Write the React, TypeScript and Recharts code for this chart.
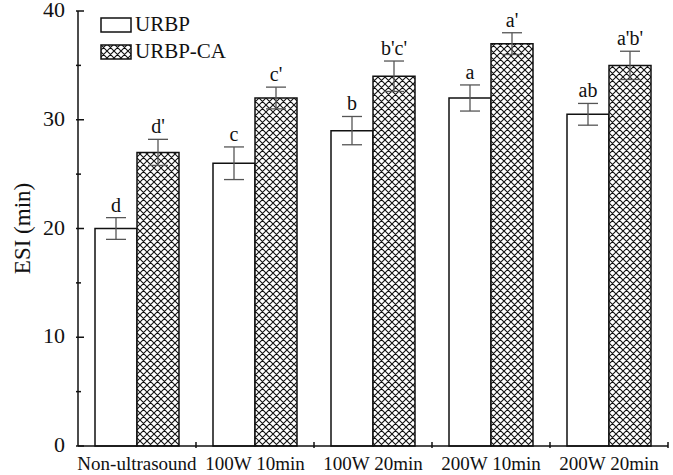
import React from "react";
import { BarChart, Bar, XAxis, YAxis, ErrorBar, LabelList, Legend } from "recharts";

const categories = ["Non-ultrasound", "100W 10min", "100W 20min", "200W 10min", "200W 20min"];
const urbp = [20, 26, 29, 32, 30.5];
const urbpErr = [1, 1.5, 1.3, 1.2, 1];
const urbpCA = [27, 32, 34, 37, 35];
const urbpCAErr = [1.2, 1, 1.4, 1, 1.3];
const urbpSig = ["d", "c", "b", "a", "ab"];
const urbpCASig = ["d'", "c'", "b'c'", "a'", "a'b'"];
const yTicks = [0, 5, 10, 15, 20, 25, 30, 35, 40];

const FONT = "'Liberation Serif', 'Times New Roman', serif";

const data = categories.map((name, i) => ({
  name,
  urbp: urbp[i],
  urbpErr: urbpErr[i],
  urbpCA: urbpCA[i],
  urbpCAErr: urbpCAErr[i],
}));

// hatch pattern used by the URBP-CA bars and legend swatch
const Hatch = ({ id }: { id: string }) => (
  <pattern id={id} width={7} height={7} patternUnits="userSpaceOnUse">
    <rect width={7} height={7} fill="#fff" />
    <path d="M0,0 L7,7 M7,0 L0,7 M-1,6 L1,8 M6,-1 L8,1 M6,8 L8,6 M-1,1 L1,-1" stroke="#111" strokeWidth={1.1} />
  </pattern>
);

// letters above each error bar
const sigLabel = (errs: number[], sigs: string[]) => (props: any) => {
  const { x, y, width, height, index, value } = props;
  const pxPerUnit = Number(height) / Number(value);
  const top = Number(y) - errs[index] * pxPerUnit;
  return (
    <text x={Number(x) + Number(width) / 2} y={top - 6} textAnchor="middle" fontFamily={FONT} fontSize={20} fill="#111">
      {sigs[index]}
    </text>
  );
};

const XTick = (props: any) => {
  const { x, y, payload, visibleTicksCount, width } = props;
  const band = (Number(width) || 590) / (visibleTicksCount || 5);
  return (
    <g>
      <line x1={x + band / 2} x2={x + band / 2} y1={y} y2={y - 6} stroke="#111" strokeWidth={1.5} />
      <text x={x} y={y + 22} textAnchor="middle" fontFamily={FONT} fontSize={19} fill="#111">
        {payload.value}
      </text>
    </g>
  );
};

const YTick = (props: any) => {
  const { x, y, payload } = props;
  const major = payload.value % 10 === 0;
  return (
    <g>
      <line x1={x} x2={x + (major ? 8 : 5)} y1={y} y2={y} stroke="#111" strokeWidth={1.5} />
      {major && (
        <text x={x - 11} y={y} dy="0.28em" textAnchor="end" fontFamily={FONT} fontSize={22} fill="#111">
          {payload.value}
        </text>
      )}
    </g>
  );
};

const YLabel = (props: any) => {
  const vb = props.viewBox || {};
  const cy = vb.y + vb.height / 2;
  return (
    <text x={22} y={cy} transform={`rotate(-90 22 ${cy})`} textAnchor="middle" dominantBaseline="central" fontFamily={FONT} fontSize={23} fill="#111">
      ESI (min)
    </text>
  );
};

const LegendBox = () => (
  <div style={{ fontFamily: FONT, fontSize: 21, color: "#111", lineHeight: "27px" }}>
    {[
      { name: "URBP", fill: "#fff" },
      { name: "URBP-CA", fill: "url(#hatchLegend)" },
    ].map((it) => (
      <div key={it.name} style={{ display: "flex", alignItems: "center", height: 27 }}>
        <svg width={32} height={16} style={{ marginRight: 3 }}>
          <defs>
            <Hatch id="hatchLegend" />
          </defs>
          <rect x={1} y={1} width={30} height={14} fill={it.fill} stroke="#111" strokeWidth={1.5} />
        </svg>
        <span>{it.name}</span>
      </div>
    ))}
  </div>
);

export default function App() {
  return (
    <div style={{ position: "absolute", left: 0, top: 0, background: "#fff" }}>
      <svg width={0} height={0} style={{ position: "absolute" }}>
        <defs>
          <Hatch id="crossHatch" />
        </defs>
      </svg>
      <BarChart
        width={673}
        height={475}
        data={data}
        margin={{ top: 11, right: 5, left: 0, bottom: 0 }}
        barCategoryGap={17}
        barGap={0}
      >
        <XAxis
          dataKey="name"
          height={29}
          tickSize={0}
          tickLine={false}
          axisLine={{ stroke: "#111", strokeWidth: 1.5 }}
          tick={<XTick />}
          interval={0}
        />
        <YAxis
          width={78}
          domain={[0, 40]}
          ticks={yTicks}
          tickSize={0}
          tickLine={false}
          axisLine={{ stroke: "#111", strokeWidth: 1.5 }}
          tick={<YTick />}
          interval={0}
          label={{ position: "center", content: <YLabel /> }}
        />
        <Legend
          layout="vertical"
          align="center"
          verticalAlign="middle"
          wrapperStyle={{ top: 11, left: 100, width: "auto" }}
          content={<LegendBox />}
        />
        <Bar dataKey="urbp" name="URBP" fill="#fff" stroke="#111" strokeWidth={1.5} isAnimationActive={false}>
          <ErrorBar dataKey="urbpErr" width={10} stroke="#555" strokeWidth={1.3} />
          <LabelList dataKey="urbp" content={sigLabel(urbpErr, urbpSig)} />
        </Bar>
        <Bar dataKey="urbpCA" name="URBP-CA" fill="url(#crossHatch)" stroke="#111" strokeWidth={1.5} isAnimationActive={false}>
          <ErrorBar dataKey="urbpCAErr" width={10} stroke="#555" strokeWidth={1.3} />
          <LabelList dataKey="urbpCA" content={sigLabel(urbpCAErr, urbpCASig)} />
        </Bar>
      </BarChart>
    </div>
  );
}
